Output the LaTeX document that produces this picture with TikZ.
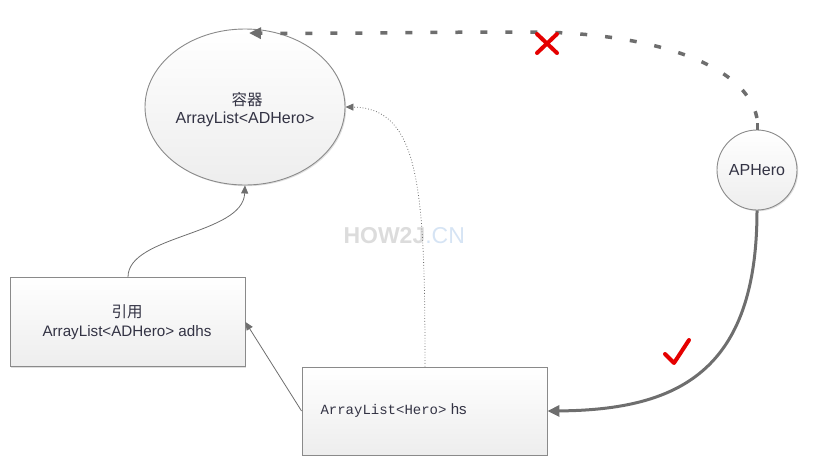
\documentclass[tikz,border=0pt]{standalone}
\usepackage{fontspec}
\setmainfont{Liberation Sans}
\newfontfamily\cjk{Noto Sans CJK SC}
\newfontfamily\monofnt{Liberation Mono}
\usetikzlibrary{arrows.meta,shapes.geometric,shadows}
\definecolor{linegray}{HTML}{6E6E6E}
\definecolor{bordergray}{HTML}{8A8A8A}
\definecolor{txt}{HTML}{333344}
\definecolor{wmgray}{HTML}{DCDCDC}
\definecolor{wmblue}{HTML}{D6E4F4}
\begin{document}
\begin{tikzpicture}[x=1pt,y=-1pt,
  shapefill/.style={draw=bordergray, line width=0.9pt, top color=white, bottom color=gray!14,
     drop shadow={shadow xshift=1.2pt,shadow yshift=-1.2pt,opacity=0.25}},
  boxnode/.style={shapefill, rectangle, minimum width=235pt, minimum height=89pt, inner sep=0pt},
  lbl/.style={text=txt, font=\fontsize{15.5}{19}\selectfont, align=center},
  thin/.style={draw=linegray, line width=0.8pt, -{Triangle[length=8pt,width=7pt]}},
  thick/.style={draw=linegray, line width=3pt, -{Triangle[length=12pt,width=11pt]}},
  redmark/.style={draw=red!90!black, line width=4pt, line cap=round}
]
\useasboundingbox (0,0) rectangle (814,472);

% nodes
\node[shapefill, ellipse, minimum width=200pt, minimum height=156pt, inner sep=0pt] (cont) at (245,107) {};
\node[lbl] at (247,100) {\cjk 容器};
\node[lbl, font=\fontsize{16}{19}\selectfont] at (245,119) {ArrayList<ADHero>};

\node[shapefill, circle, minimum size=80pt, inner sep=0pt] (ap) at (757,170) {};
\node[lbl, font=\fontsize{16}{19}\selectfont] at (757,170) {APHero};

\node[boxnode] (ref) at (127.5,322) {};
\node[lbl] at (127,312) {\cjk 引用};
\node[lbl, font=\fontsize{15.2}{19}\selectfont] at (127,333) {ArrayList<ADHero> adhs};

\node[boxnode, minimum width=245pt, minimum height=88pt] (hs) at (424.5,411) {};
\node[lbl, anchor=west] at (317,411) {{\monofnt\fontsize{14}{16}\selectfont ArrayList<Hero>} {\fontsize{15}{19}\selectfont hs}};

% watermark
\node[font=\bfseries\fontsize{23}{26}\selectfont, text=wmgray, anchor=west] at (340,236) {HOW2J\textcolor{wmblue}{\mdseries .CN}};

% connectors
\coordinate (contTop) at (249,33);
\draw[thick, line width=3.5pt, dash pattern=on 7pt off 18pt]
  (757,118) .. controls (745,60) and (640,32) .. (530,32)
  .. controls (420,32) and (320,34) .. (contTop);
\draw[draw=linegray, line width=3pt] (ap.north) -- (757,123);

\draw[thin, dotted, line width=0.8pt] (hs.north -| 425,0) .. controls (425,190) and (420,108) .. (cont.east);

\draw[thin] (ref.north -| 128,0) .. controls (128,235) and (243,235) .. (cont.south);

\draw[thin] (hs.west) -- (ref.east);

\draw[thick] (ap.south) .. controls (757,370) and (680,410) .. (hs.east);

% red marks
\draw[redmark] (537,34) -- (557,53) (557,34) -- (537,53);
\draw[redmark, line width=4pt, line join=round] (665,354) -- (674,363) -- (689,340);
\end{tikzpicture}
\end{document}
